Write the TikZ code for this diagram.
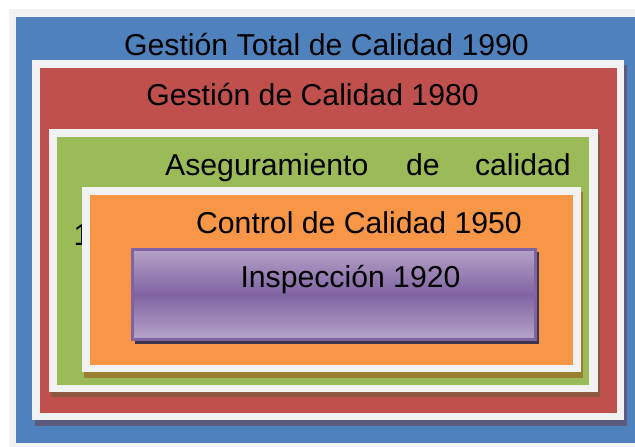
\documentclass[tikz,border=0pt]{standalone}
\usepackage{fontspec}
\setmainfont{Liberation Sans}
\definecolor{bgGray}{HTML}{F2F2F2}
\definecolor{tqmBlue}{HTML}{4F81BD}
\definecolor{qmRed}{HTML}{C0504D}
\definecolor{qaGreen}{HTML}{9BBB59}
\definecolor{qcOrange}{HTML}{F79646}
\definecolor{inspLight}{HTML}{B3A2C7}
\definecolor{inspDark}{HTML}{8064A2}
\definecolor{shBlue}{HTML}{5B5B7D}
\definecolor{shRed}{HTML}{8B5840}
\definecolor{shGreen}{HTML}{9A7F32}
\definecolor{shOrange}{HTML}{3F3450}
\tikzset{lvltext/.style={font=\fontsize{30.2}{34}\selectfont, inner sep=0pt, anchor=base}}
\tikzset{frame/.style={fill=bgGray}}

\begin{document}
\begin{tikzpicture}[x=1pt,y=-1pt]
\useasboundingbox (0,0) rectangle (635,447);
\fill[white] (0,0) rectangle (635,447);
\fill[bgGray] (9,9) rectangle (635,447);

% Gestion total
\fill[tqmBlue] (16,17) rectangle (635,443);
\node[lvltext] (tqm) at (326.5,55) {Gestión Total de Calidad 1990};

% Gestion de calidad
\fill[shBlue] (35,65) rectangle (627,426);
\fill[frame] (32,60) rectangle (624,420);
\fill[qmRed] (40,68) rectangle (617,413);
\node[lvltext] (qm) at (312.5,105) {Gestión de Calidad 1980};

% Aseguramiento
\fill[shRed] (51,134) rectangle (600,397);
\fill[frame] (49,129) rectangle (598,392);
\fill[qaGreen] (57,137) rectangle (589,385);
\node[lvltext,anchor=base west] (qa1) at (165,175) {Aseguramiento};
\node[lvltext,anchor=base west] (qa2) at (406,175) {de};
\node[lvltext,anchor=base east] (qa3) at (571,175) {calidad};
\node[lvltext,anchor=base west] (qa4) at (73.5,245) {1970};

% Control
\fill[shGreen] (84,192) rectangle (583,378);
\fill[frame] (82,187) rectangle (581,372);
\fill[qcOrange] (90,195) rectangle (573,365);
\node[lvltext] (qc) at (359,233) {Control de Calidad 1950};

% Inspeccion
\fill[shOrange] (135,252) rectangle (539,344);
\foreach \i in {0,...,88} {
  \pgfmathsetmacro\mixp{100*(1-abs(\i-44)/44)}
  \fill[inspDark!\mixp!inspLight] (133,250+\i) rectangle (535,251.6+\i);
}
\draw[inspDark, line width=2.5pt] (132.5,249.5) rectangle (535.5,339.5);
\node[lvltext] (insp) at (350.5,287) {Inspección 1920};
\end{tikzpicture}
\end{document}
